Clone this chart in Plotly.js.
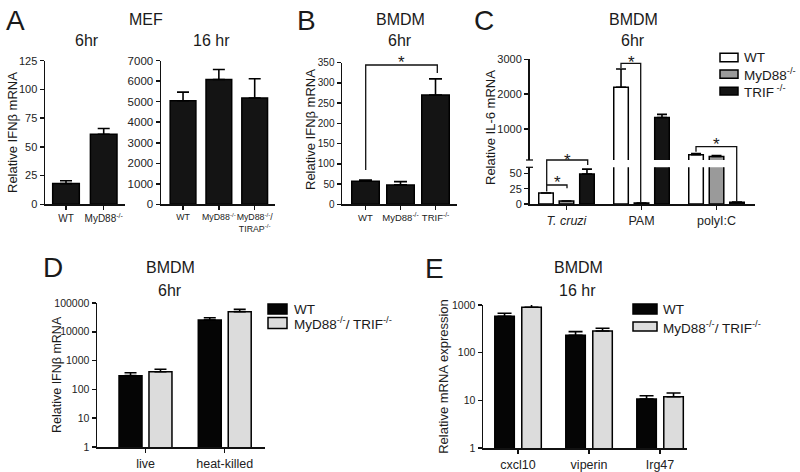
<!DOCTYPE html>
<html><head><meta charset="utf-8">
<script src="https://cdn.plot.ly/plotly-3.0.1.min.js"></script>
<style>html,body{margin:0;padding:0;background:#fff}#chart{width:800px;height:472px}</style>
</head><body><div id="chart"></div>
<script>
// ---------- DATA ----------
// Panel A (MEF)
const catsA6 = ['WT', 'MyD88<sup>-/-</sup>'];
const ifnA6 = [18, 61];
const errA6 = [2.5, 5];
const catsA16 = ['WT', 'MyD88<sup>-/-</sup>', 'MyD88<sup>-/-</sup>/<br>TIRAP<sup>-/-</sup>'];
const ifnA16 = [5050, 6080, 5180];
const errA16 = [420, 490, 940];
// Panel B (BMDM 6hr)
const catsB = ['WT', 'MyD88<sup>-/-</sup>', 'TRIF<sup>-/-</sup>'];
const ifnB = [57, 48, 270];
const errB = [3, 8, 40];
// Panel C (BMDM 6hr, IL-6)
const catsC = ['<i>T. cruzi</i>', 'PAM', 'polyI:C'];
const il6WT = [18, 2200, 260];
const errC_WT = [0, 520, 35];
const il6MyD = [5, 1.5, 210];
const errC_MyD = [0, 0, 25];
const il6TRIF = [49, 1330, 3];
const errC_TRIF = [8, 90, 0];
const cLowMax = 60, cHighMin = 110;
// Panel D (BMDM 6hr, log)
const catsD = ['live', 'heat-killed'];
const ifnD_WT = [300, 25700];
const errD_WT = [80, 5200];
const ifnD_KO = [410, 50000];
const errD_KO = [90, 10500];
// Panel E (BMDM 16hr, log)
const catsE = ['cxcl10', 'viperin', 'Irg47'];
const exprE_WT = [580, 231, 10.7];
const errE_WT = [90, 45, 1.8];
const exprE_KO = [895, 285, 11.9];
const errE_KO = [150, 40, 2.4];
const logTicksD = [1, 10, 100, 1000, 10000, 100000];
const logTicksE = [1, 10, 100, 1000];

// ---------- HELPERS ----------
const W = 800, H = 472;
const F = 'Liberation Sans, Arial, Helvetica, sans-serif';
const BLACK = '#141414', GREY = '#9a9a9a', LIGHT = '#dcdcdc';
const X = p => p / W;
const Y = p => 1 - p / H;
const xdom = (a, b) => [a / W, b / W];
const ydom = (top, bottom) => [1 - bottom / H, 1 - top / H];
const zeros = n => new Array(n).fill(0);

function bar(x, y, err, xa, ya, color, width, offset, cap) {
  const t = {
    type: 'bar', x: x, y: y, xaxis: xa, yaxis: ya, width: width,
    marker: {color: color, line: {color: '#000', width: 1.5}},
    error_y: {type: 'data', symmetric: false, array: err, arrayminus: zeros(err.length),
              color: '#000', thickness: 1.6, width: cap},
    hoverinfo: 'skip', showlegend: false
  };
  if (offset !== undefined) t.offset = offset;
  return t;
}
const lowErr = (v, e) => v.map((d, i) => (d + e[i] <= cLowMax ? e[i] : 0));
const highErr = (v, e) => v.map((d, i) => (d > cHighMin ? e[i] : 0));

const traces = [
  bar(catsA6, ifnA6, errA6, 'x', 'y', BLACK, 0.706, undefined, 6),
  bar(catsA16, ifnA16, errA16, 'x2', 'y2', BLACK, 0.718, undefined, 6),
  bar(catsB, ifnB, errB, 'x3', 'y3', BLACK, 0.786, undefined, 6.5),
  // Panel C lower segment
  bar(catsC, il6WT, lowErr(il6WT, errC_WT), 'x4', 'y4', '#ffffff', 0.194, -0.37, 5),
  bar(catsC, il6MyD, lowErr(il6MyD, errC_MyD), 'x4', 'y4', GREY, 0.194, -0.097, 5),
  bar(catsC, il6TRIF, lowErr(il6TRIF, errC_TRIF), 'x4', 'y4', BLACK, 0.194, 0.176, 5),
  // Panel C upper segment
  bar(catsC, il6WT, highErr(il6WT, errC_WT), 'x4', 'y5', '#ffffff', 0.194, -0.37, 5),
  bar(catsC, il6MyD, highErr(il6MyD, errC_MyD), 'x4', 'y5', GREY, 0.194, -0.097, 5),
  bar(catsC, il6TRIF, highErr(il6TRIF, errC_TRIF), 'x4', 'y5', BLACK, 0.194, 0.176, 5),
  // Panel D
  bar(catsD, ifnD_WT, errD_WT, 'x5', 'y6', '#050505', 0.29, -0.334, 6),
  bar(catsD, ifnD_KO, errD_KO, 'x5', 'y6', LIGHT, 0.29, 0.044, 6),
  // Panel E
  bar(catsE, exprE_WT, errE_WT, 'x6', 'y7', '#050505', 0.275, -0.327, 7),
  bar(catsE, exprE_KO, errE_KO, 'x6', 'y7', LIGHT, 0.275, 0.053, 7)
];

const base = {
  showline: true, linecolor: '#111', linewidth: 1.5, ticks: 'outside', ticklen: 4,
  tickwidth: 1.5, tickcolor: '#111', showgrid: false, zeroline: false, fixedrange: true,
  automargin: false, tickfont: {family: F, size: 11.5, color: '#222'}
};
const xcat = (dom, rng, anchor, fs) => Object.assign({}, base, {
  type: 'category', domain: dom, range: rng, anchor: anchor, tickangle: 0,
  tickfont: {family: F, size: fs, color: '#222'}
});
const yax = (o, fs) => Object.assign({}, base, o, {tickfont: {family: F, size: fs, color: '#222'}});
const ytitle = (txt, so) => ({text: txt, font: {family: F, size: 13, color: '#222'}, standoff: so});

const layout = {
  width: W, height: H, margin: {l: 0, r: 0, t: 0, b: 0},
  paper_bgcolor: '#fff', plot_bgcolor: 'rgba(0,0,0,0)',
  barmode: 'overlay', showlegend: false, font: {family: F, color: '#222'},
  xaxis: xcat(xdom(45, 125), [-0.557, 1.565], 'y', 10),
  yaxis: yax({domain: ydom(60.7, 204.3), range: [0, 125], tickvals: [0, 25, 50, 75, 100, 125], anchor: 'x'}, 11),
  xaxis2: xcat(xdom(161, 275), [-0.615, 2.567], 'y2', 8.8),
  yaxis2: yax({domain: ydom(60.7, 204.3), range: [0, 7000], dtick: 1000, anchor: 'x2'}, 11.5),
  xaxis3: xcat(xdom(342, 457), [-0.671, 2.614], 'y3', 9.5),
  yaxis3: yax({domain: ydom(62.7, 204.3), range: [0, 350], dtick: 50, anchor: 'x3'}, 10),
  xaxis4: xcat(xdom(529.5, 755), [-0.493, 2.513], 'y4', 12.5),
  yaxis4: yax({domain: ydom(167.3, 204), range: [0, cLowMax], tickvals: [0, 25, 50], anchor: 'x4'}, 11),
  yaxis5: yax({domain: ydom(59.3, 160), range: [cHighMin, 3000], tickvals: [1000, 2000, 3000], anchor: 'x4'}, 11),
  xaxis5: xcat(xdom(97, 265), [-0.612, 1.508], 'y6', 12.5),
  yaxis6: yax({type: 'log', domain: ydom(303, 447), range: [0, 5], tickvals: logTicksD,
    ticktext: logTicksD.map(String), anchor: 'x5'}, 10.5),
  xaxis6: xcat(xdom(483, 687), [-0.493, 2.38], 'y7', 12.5),
  yaxis7: yax({type: 'log', domain: ydom(305, 448), range: [0, 3], tickvals: logTicksE,
    ticktext: logTicksE.map(String), anchor: 'x6', title: ytitle('Relative mRNA expression', 0)}, 10.5)
};

const ann = [];
function txt(t, x, y, size, extra) {
  ann.push(Object.assign({text: t, x: X(x), y: Y(y), xref: 'paper', yref: 'paper', showarrow: false,
    xanchor: 'center', yanchor: 'middle', font: {family: F, size: size, color: '#1a1a1a'}}, extra || {}));
}
// panel letters
txt('A', 15, 20, 28); txt('B', 306, 20, 28); txt('C', 484, 20, 28);
txt('D', 53, 267, 28); txt('E', 434, 268, 28);
// titles
txt('MEF', 146, 19, 16);
txt('6hr', 87, 40, 16); txt('16 hr', 211, 40, 16);
txt('BMDM', 400, 19, 16); txt('6hr', 400, 40, 16);
txt('BMDM', 633, 19, 16); txt('6hr', 633, 40, 16);
txt('BMDM', 170, 267, 16); txt('6hr', 170, 290, 16);
txt('BMDM', 578, 267, 16); txt('16 hr', 577, 290, 16);
// y titles placed beside their axes
txt('Relative IFNβ mRNA', 12, 133, 13, {textangle: -90});
txt('Relative IFNβ mRNA', 311, 130, 13, {textangle: -90});
txt('Relative IL-6 mRNA', 491, 128, 13, {textangle: -90});
txt('Relative IFNβ mRNA', 57, 374, 12.5, {textangle: -90});
// stars
const stars = [[401.7, 59], [567, 156], [557, 178], [631.7, 58.3], [716.7, 140.7]];
stars.forEach(s => txt('*', s[0], s[1] + 4, 17));
// legend texts
txt('WT', 742, 57.5, 13.5, {xanchor: 'left'});
txt('MyD88<sup>-/-</sup>', 742, 74, 13.5, {xanchor: 'left'});
txt('TRIF<sup> -/-</sup>', 742, 91, 13.5, {xanchor: 'left'});
txt('WT', 292, 309, 13.5, {xanchor: 'left'});
txt('MyD88<sup>-/-</sup>/ TRIF<sup>-/-</sup>', 292, 323, 13.5, {xanchor: 'left'});
txt('WT', 661, 309, 13.5, {xanchor: 'left'});
txt('MyD88<sup>-/-</sup>/ TRIF<sup>-/-</sup>', 661, 326.5, 13.5, {xanchor: 'left'});
layout.annotations = ann;

// shapes: brackets, axis break marks, legend swatches
const shapes = [];
function path(pts) {
  const d = pts.map((p, i) => (i ? 'L' : 'M') + X(p[0]).toFixed(5) + ',' + Y(p[1]).toFixed(5)).join(' ');
  shapes.push({type: 'path', xref: 'paper', yref: 'paper', path: d, line: {color: '#111', width: 1.3}});
}
path([[365.7, 170], [365.7, 65], [437.3, 65], [437.3, 73]]);
path([[546.7, 185], [546.7, 160], [587.7, 160], [587.7, 165]]);
path([[546.7, 191.5], [546.7, 185], [567, 185], [567, 188.3]]);
path([[621, 68], [621, 63.3], [640.7, 63.3], [640.7, 203]]);
path([[696, 151.7], [696, 146.7], [736.7, 146.7], [736.7, 201.7]]);
// axis break marks
path([[526, 160], [533, 160]]);
path([[526, 167.3], [533, 167.3]]);
function box(x0, y0, x1, y1, col) {
  shapes.push({type: 'rect', xref: 'paper', yref: 'paper', x0: X(x0), x1: X(x1), y0: Y(y1), y1: Y(y0),
    fillcolor: col, line: {color: '#000', width: 1.5}});
}
box(720, 53.3, 738, 61.7, '#ffffff');
box(720, 70, 738, 78.3, GREY);
box(720, 87.3, 738, 95, BLACK);
box(268, 304, 287, 314, '#050505');
box(268, 317.5, 287, 328.5, LIGHT);
box(633, 304, 657, 314, '#050505');
box(633, 322, 657, 331, LIGHT);
layout.shapes = shapes;

Plotly.newPlot('chart', traces, layout, {staticPlot: true, displayModeBar: false});
</script></body></html>
